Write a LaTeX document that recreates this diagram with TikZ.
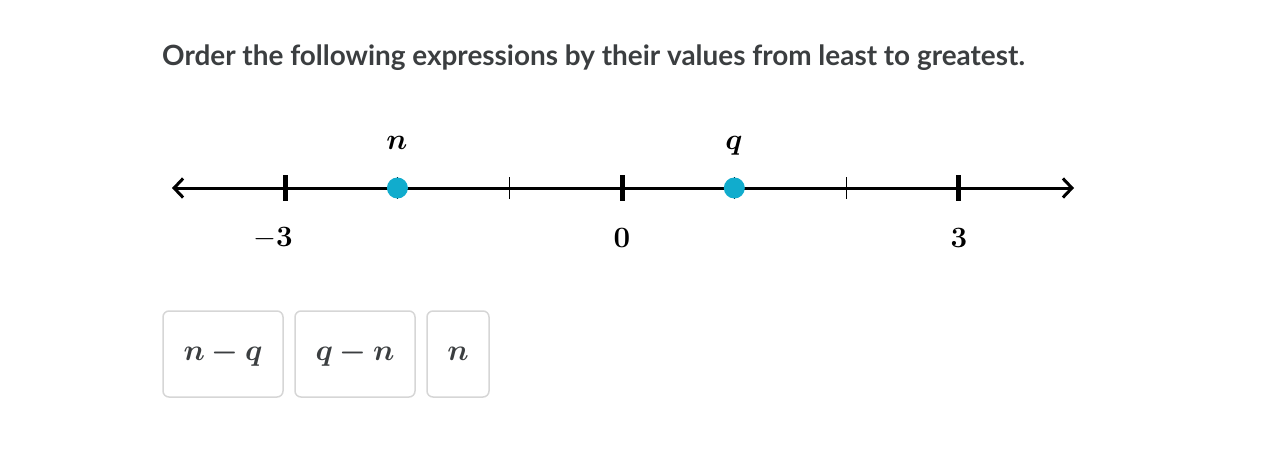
\RequirePackage{fix-cm}
\documentclass[tikz,border=0pt]{standalone}
\usepackage[no-math]{fontspec}
\usepackage{amsmath}
\usepackage{bm}
\usepackage{tikz}
\usetikzlibrary{arrows.meta}
\newfontfamily\latofont{Lato}
\definecolor{inkgray}{HTML}{3B3E40}
\definecolor{dotblue}{HTML}{11ACCD}
\definecolor{cardgray}{HTML}{D6D6D6}
\tikzset{
  title/.style={anchor=west, inner sep=0pt, text=inkgray,
    font=\latofont\bfseries\fontsize{27.9}{32}\selectfont},
  axis/.style={line width=3pt, {Straight Barb[length=9pt,width=19pt,line width=3pt]}-{Straight Barb[length=9pt,width=19pt,line width=3pt]}},
  bigtick/.style={line width=5pt},
  smalltick/.style={line width=1.5pt},
  ticklabel/.style={inner sep=0pt, font=\fontsize{29.5}{32}\selectfont},
  ptlabel/.style={inner sep=0pt, font=\fontsize{29.5}{32}\selectfont},
  dot/.style={circle, fill=dotblue, minimum size=21pt, inner sep=0pt},
  card/.style={draw=cardgray, line width=1.5pt, rounded corners=6pt,
    minimum height=86pt, text=inkgray, font=\fontsize{30}{32}\selectfont}
}
\begin{document}
\begin{tikzpicture}[x=1pt,y=-1pt]
\useasboundingbox (0,0) rectangle (1284,458);
\node[title] (question) at (162,58) {Order the following expressions by their values from least to greatest.};

% number line
\coordinate (lend) at (172,188);
\coordinate (rend) at (1074,188);
\draw[axis] (lend) -- (rend);
\foreach \i in {-3,...,3}
  \coordinate (t\i) at ({622+112.3*\i},188);
\foreach \i in {-3,0,3}
  \draw[bigtick] (t\i) ++(0,-13) -- ++(0,26);
\foreach \i in {-2,-1,1,2}
  \draw[smalltick] (t\i) ++(0,-11) -- ++(0,22);
\node[ticklabel] (lab-3) at (273,238) {$-\boldsymbol{3}$};
\node[ticklabel] (lab0) at (622,238) {$\boldsymbol{0}$};
\node[ticklabel] (lab3) at (959,238) {$\boldsymbol{3}$};

% points
\node[dot] (n) at (t-2) {};
\node[dot] (q) at (t1) {};
\node[ptlabel] (nlab) at (397,143) {$\boldsymbol{n}$};
\node[ptlabel] (qlab) at (734,146) {$\boldsymbol{q}$};

% cards
\node[card, minimum width=120pt] (card1) at (223,354) {$\boldsymbol{n-q}$};
\node[card, minimum width=120pt] (card2) at (355,354) {$\boldsymbol{q-n}$};
\node[card, minimum width=62pt] (card3) at (458,354) {$\boldsymbol{n}$};
\end{tikzpicture}
\end{document}
